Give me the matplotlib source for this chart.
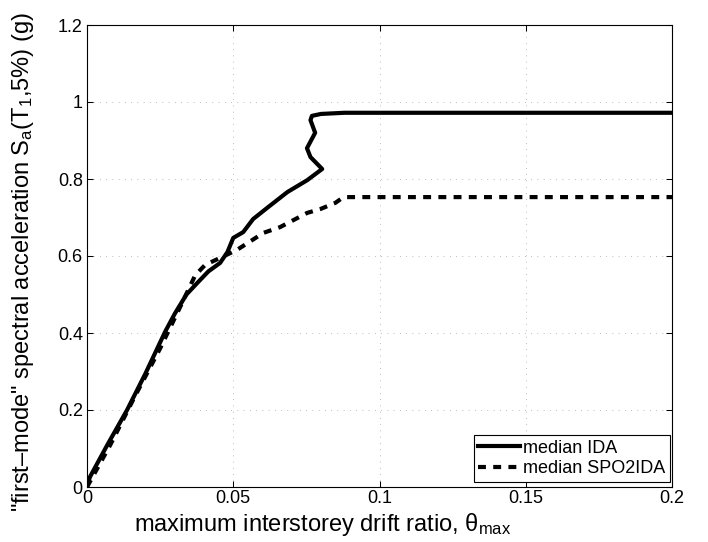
import matplotlib
matplotlib.use('Agg')
import matplotlib.pyplot as plt

plt.rcParams['font.family'] = ['Liberation Sans', 'DejaVu Sans']
plt.rcParams['mathtext.fontset'] = 'custom'
plt.rcParams['mathtext.rm'] = 'Liberation Sans'
plt.rcParams['mathtext.default'] = 'regular'

# median IDA curve (drift ratio, Sa in g)
ida_x = [0, 0.001, 0.007, 0.0137, 0.020, 0.0267, 0.030, 0.034, 0.0377, 0.0415,
         0.0455, 0.048, 0.050, 0.0534, 0.0568, 0.0616, 0.0685, 0.0753, 0.0804,
         0.0764, 0.0752, 0.078, 0.0764, 0.0769, 0.080, 0.088, 0.2]
ida_y = [0, 0.026, 0.11, 0.20, 0.295, 0.403, 0.45, 0.50, 0.53, 0.56,
         0.582, 0.61, 0.647, 0.662, 0.696, 0.725, 0.766, 0.797, 0.826,
         0.857, 0.880, 0.920, 0.953, 0.964, 0.969, 0.972, 0.972]

# median SPO2IDA curve
spo_x = [0, 0.008, 0.016, 0.025, 0.032, 0.037, 0.0404, 0.0455, 0.0513,
         0.0603, 0.066, 0.0753, 0.0798, 0.0849, 0.0877, 0.2]
spo_y = [0, 0.11, 0.23, 0.36, 0.47, 0.55, 0.577, 0.595, 0.616,
         0.660, 0.675, 0.712, 0.722, 0.738, 0.753, 0.753]

x_ticks = [0, 0.05, 0.1, 0.15, 0.2]
x_labels = ['0', '0.05', '0.1', '0.15', '0.2']
y_ticks = [0, 0.2, 0.4, 0.6, 0.8, 1.0, 1.2]
y_labels = ['0', '0.2', '0.4', '0.6', '0.8', '1', '1.2']

fig = plt.figure(figsize=(7.08, 5.42), dpi=100)
ax = fig.add_axes([87 / 708, 55 / 542, 585 / 708, 462 / 542])

ax.plot(ida_x, ida_y, '-', color='black', linewidth=3, label='median IDA')
ax.plot(spo_x, spo_y, '--', color='black', linewidth=3, dashes=(1.9, 1.75),
        label='median SPO2IDA')

ax.set_xlim(0, 0.2)
ax.set_ylim(0, 1.2)
ax.set_xticks(x_ticks)
ax.set_xticklabels(x_labels)
ax.set_yticks(y_ticks)
ax.set_yticklabels(y_labels)
ax.tick_params(direction='in', length=4.5, width=0.75, labelsize=13,
               top=True, right=True)
ax.tick_params(axis='x', pad=2.5)
ax.tick_params(axis='y', pad=3)
for s in ax.spines.values():
    s.set_linewidth(0.8)

ax.grid(True, color='#808080', linewidth=0.5, dashes=(1, 8))
ax.set_axisbelow(True)

# axis labels
ax.text(0.403, -0.095, 'maximum interstorey drift ratio, θ$_{max}$',
        transform=ax.transAxes, ha='center', va='baseline', fontsize=17)
fig.text(23 / 708, 1 - 262 / 542,
         '"first–mode" spectral acceleration S$_{a}$(T$_{1}$,5%) (g)',
         rotation=90, ha='center', va='center', fontsize=17)

leg = ax.legend(loc='lower right', bbox_to_anchor=(0.997, 0.011),
                borderaxespad=0, fontsize=13, handlelength=2.3,
                handletextpad=0.2, labelspacing=0.2, borderpad=0.25,
                fancybox=False, framealpha=1, edgecolor='black')
leg.get_frame().set_linewidth(0.8)

fig.savefig('out.png', dpi=100)
